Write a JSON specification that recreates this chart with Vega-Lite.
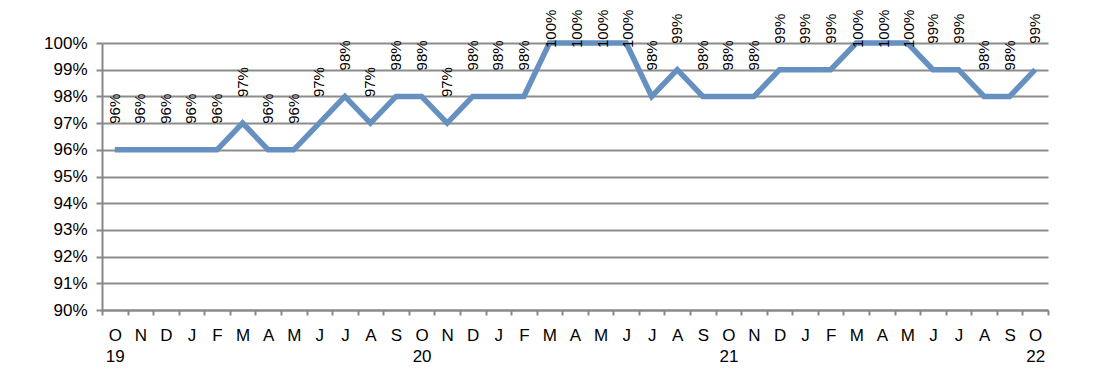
{
  "$schema": "https://vega.github.io/schema/vega-lite/v6.json",
  "width": 946,
  "height": 267,
  "autosize": {"type": "none"},
  "padding": {"left": 102, "top": 43, "right": 46, "bottom": 82},
  "background": "white",
  "config": {
    "view": {"stroke": null},
    "font": "Liberation Sans",
    "axis": {"labelFont": "Liberation Sans", "labelColor": "#000000"}
  },
  "data": {
    "values": [
      {"m": "2019-10", "v": 0.96}, {"m": "2019-11", "v": 0.96}, {"m": "2019-12", "v": 0.96},
      {"m": "2020-01", "v": 0.96}, {"m": "2020-02", "v": 0.96}, {"m": "2020-03", "v": 0.97},
      {"m": "2020-04", "v": 0.96}, {"m": "2020-05", "v": 0.96}, {"m": "2020-06", "v": 0.97},
      {"m": "2020-07", "v": 0.98}, {"m": "2020-08", "v": 0.97}, {"m": "2020-09", "v": 0.98},
      {"m": "2020-10", "v": 0.98}, {"m": "2020-11", "v": 0.97}, {"m": "2020-12", "v": 0.98},
      {"m": "2021-01", "v": 0.98}, {"m": "2021-02", "v": 0.98}, {"m": "2021-03", "v": 1.0},
      {"m": "2021-04", "v": 1.0}, {"m": "2021-05", "v": 1.0}, {"m": "2021-06", "v": 1.0},
      {"m": "2021-07", "v": 0.98}, {"m": "2021-08", "v": 0.99}, {"m": "2021-09", "v": 0.98},
      {"m": "2021-10", "v": 0.98}, {"m": "2021-11", "v": 0.98}, {"m": "2021-12", "v": 0.99},
      {"m": "2022-01", "v": 0.99}, {"m": "2022-02", "v": 0.99}, {"m": "2022-03", "v": 1.0},
      {"m": "2022-04", "v": 1.0}, {"m": "2022-05", "v": 1.0}, {"m": "2022-06", "v": 0.99},
      {"m": "2022-07", "v": 0.99}, {"m": "2022-08", "v": 0.98}, {"m": "2022-09", "v": 0.98},
      {"m": "2022-10", "v": 0.99}
    ]
  },
  "encoding": {
    "x": {
      "field": "m",
      "type": "ordinal",
      "sort": null,
      "scale": {"type": "band", "paddingInner": 0, "paddingOuter": 0},
      "axis": {
        "title": null,
        "labelAngle": 0,
        "labelFontSize": 17,
        "labelPadding": 12,
        "labelLineHeight": 21,
        "labelBaseline": "top",
        "tickBand": "extent",
        "tickSize": 5,
        "tickColor": "#888888",
        "tickWidth": 2,
        "domainColor": "#888888",
        "domainWidth": 2,
        "grid": false,
        "labelExpr": "isString(datum.value) && length(datum.value) == 7 ? [['J','F','M','A','M','J','J','A','S','O','N','D'][toNumber(substring(datum.value,5,7))-1], substring(datum.value,5,7)=='10' ? substring(datum.value,2,4) : ''] : ''"
      }
    },
    "y": {
      "field": "v",
      "type": "quantitative",
      "scale": {"domain": [0.9, 1.0], "nice": false, "zero": false},
      "axis": {
        "title": null,
        "format": ".0%",
        "values": [0.9, 0.91, 0.92, 0.93, 0.94, 0.95, 0.96, 0.97, 0.98, 0.99, 1.0],
        "labelFontSize": 17,
        "labelPadding": 9,
        "tickSize": 6,
        "tickColor": "#888888",
        "tickWidth": 2,
        "domainColor": "#888888",
        "domainWidth": 2,
        "grid": true,
        "gridColor": "#8c8c8c",
        "gridWidth": 2
      }
    }
  },
  "layer": [
    {
      "mark": {"type": "line", "color": "#6690c0", "strokeWidth": 5.5, "strokeJoin": "miter", "strokeCap": "butt"}
    },
    {
      "transform": [{"filter": "datum.v < 0.995"}],
      "mark": {"type": "text", "angle": 270, "align": "left", "baseline": "middle", "dx": 26, "fontSize": 15, "color": "#000000"},
      "encoding": {"text": {"field": "v", "type": "quantitative", "format": ".0%"}}
    },
    {
      "transform": [{"filter": "datum.v >= 0.995"}],
      "mark": {"type": "text", "angle": 270, "align": "left", "baseline": "middle", "dx": -5, "dy": 2, "fontSize": 15, "color": "#000000"},
      "encoding": {"text": {"field": "v", "type": "quantitative", "format": ".0%"}}
    }
  ]
}
